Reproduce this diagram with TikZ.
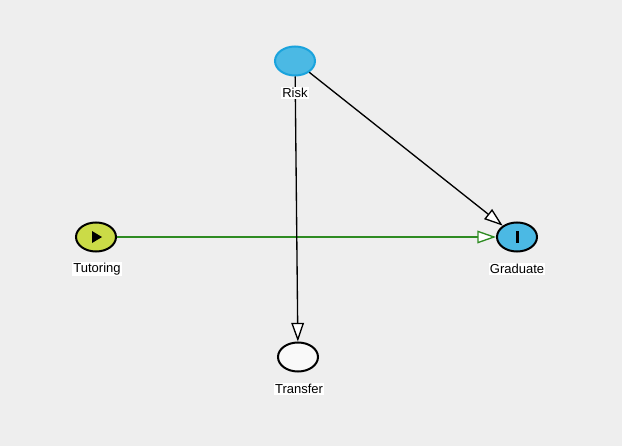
\documentclass[tikz,border=0pt]{standalone}
\usepackage{fontspec}
\setmainfont{Liberation Sans}
\usetikzlibrary{arrows.meta,shapes.geometric}
\definecolor{bg}{HTML}{EEEEEE}
\definecolor{expo}{HTML}{CBDB47}
\definecolor{outc}{HTML}{4BB9E4}
\definecolor{riskb}{HTML}{1AA3DD}
\definecolor{edgegreen}{HTML}{2E8B22}
\definecolor{latent}{HTML}{F9F9F9}
\begin{document}
\begin{tikzpicture}[x=0.75pt,y=-0.75pt,
  var/.style={ellipse,draw=black,line width=1.5pt,minimum width=40*0.75pt,minimum height=29*0.75pt,inner sep=0pt},
  lbl/.style={fill=white,inner sep=1pt,font=\fontsize{9.75pt}{11pt}\selectfont},
  arr/.style={line width=1pt,-{Triangle[open,fill=white,length=14pt,width=9.5pt]}}]
\fill[bg] (0,0) rectangle (622,446);
\useasboundingbox (0,0) rectangle (622,446);
\node[var,fill=expo] (tut) at (96,237) {};
\node[var,fill=outc] (grad) at (517,237) {};
\node[var,fill=outc,draw=riskb] (risk) at (295,61) {};
\node[var,fill=latent] (trans) at (298,357) {};
\fill (tut.center) ++(-4,-6) -- ++(10,6) -- ++(-10,6) -- cycle;
\fill ([xshift=-1.5*0.75pt,yshift=6*0.75pt]grad.center) rectangle ([xshift=1.5*0.75pt,yshift=-6*0.75pt]grad.center);
\draw[arr,draw=edgegreen] (tut) -- (grad);
\draw[arr] (risk) -- (grad);
\draw[arr] (risk) -- (trans);
\node[lbl] (tutl) at (97,269) {Tutoring};
\node[lbl] (gradl) at (517,269) {Graduate};
\node[lbl] (riskl) at (295,93) {Risk};
\node[lbl] (transl) at (299,389) {Transfer};
\end{tikzpicture}
\end{document}
